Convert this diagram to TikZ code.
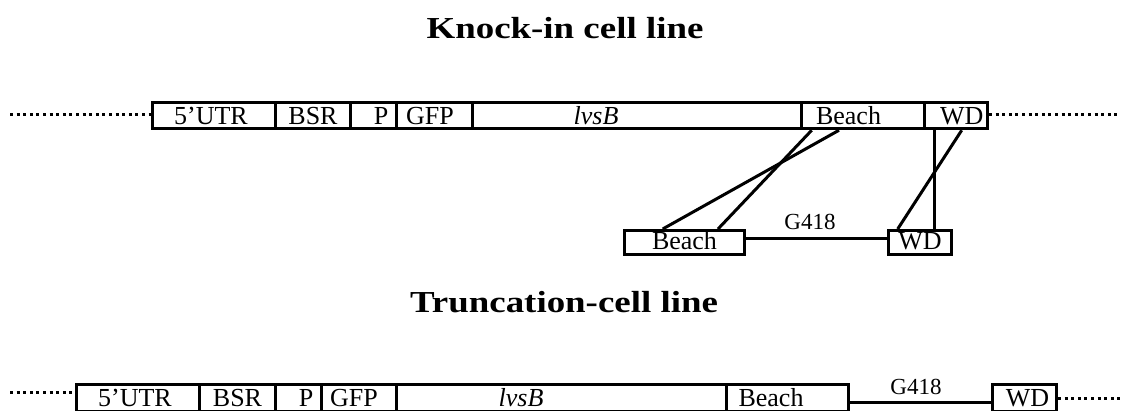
\documentclass[tikz,border=0pt]{standalone}
\usepackage{fontspec}
\setmainfont{Liberation Serif}
\begin{document}
\begin{tikzpicture}[x=1pt,y=-1pt,
  cell/.style={draw, line width=3pt, inner sep=0pt, minimum height=26.5pt},
  lab/.style={inner sep=0pt, anchor=base, font=\fontsize{26}{28}\selectfont},
  glab/.style={inner sep=0pt, anchor=base, font=\fontsize{23}{25}\selectfont},
  link/.style={line width=3pt},
  dots/.style={line width=3pt, dash pattern=on 3pt off 3.6pt},
  title/.style={inner sep=0pt, anchor=base, font=\bfseries\fontsize{30.5}{34}\selectfont},
]
\useasboundingbox (0,0) rectangle (1122,411);

% ---- titles ----
\node[title] (ktitle) at (565,38.3) {\scalebox{1.21}[1]{Knock-in cell line}};
\node[title] (ttitle) at (564,313) {\scalebox{1.21}[1]{Truncation-cell line}};

% ---- knock-in construct ----
\node[cell, minimum width=122.5pt] (utr1)   at (213.75,115.5) {};
\node[cell, minimum width=75pt]    (bsr1)   at (312.5,115.5) {};
\node[cell, minimum width=46.5pt]  (p1)     at (373.25,115.5) {};
\node[cell, minimum width=76pt]    (gfp1)   at (434.5,115.5) {};
\node[cell, minimum width=329.2pt] (lvsb1)  at (637.1,115.5) {};
\node[cell, minimum width=122.3pt] (beach1) at (862.85,115.5) {};
\node[cell, minimum width=63.5pt]  (wd1)    at (955.75,115.5) {};

\node[lab] (tutr1)   at (211,124.3)   {5’UTR};
\node[lab] (tbsr1)   at (313,124.3)   {BSR};
\node[lab] (tp1)     at (381,124.3)   {P};
\node[lab] (tgfp1)   at (430,124.3)   {GFP};
\node[lab] (tlvsb1)  at (596,124.3)   {\textit{lvsB}};
\node[lab] (tbeach1) at (848.5,124.3) {Beach};
\node[lab] (twd1)    at (961.7,124.3) {WD};

\coordinate (d1a) at (10,114.5);
\coordinate (d1b) at (1118,114.5);
\draw[dots] (d1a) -- (d1a -| utr1.west);
\draw[dots] (d1b -| wd1.east) -- (d1b);

% ---- insertion cassette ----
\node[cell, minimum width=120pt, minimum height=24pt] (beachL) at (684.5,242.5) {};
\node[cell, minimum width=63pt,  minimum height=24pt] (wdL)    at (920,242.5) {};
\node[lab] (tbeachL) at (684.5,250) {Beach};
\node[lab] (twdL)    at (920,250)   {WD};
\draw[link] ([yshift=4pt]beachL.east) -- ([yshift=4pt]wdL.west);
\node[glab] (g418a) at (810,229.3) {G418};

% ---- homologous arms ----
\draw[link] ([xshift=11.5pt]beach1.south west) -- ([xshift=95pt]beachL.north west);
\draw[link] ([xshift=38.8pt]beach1.south west) -- ([xshift=39.7pt]beachL.north west);
\draw[link] ([xshift=11.8pt]wd1.south west) -- ([xshift=47.3pt]wdL.north west);
\draw[link] ([xshift=39.2pt]wd1.south west) -- ([xshift=10.7pt]wdL.north west);

% ---- truncation construct ----
\node[cell, minimum width=122.5pt] (utr2)   at (137.75,398.25) {};
\node[cell, minimum width=76pt]    (bsr2)   at (237,398.25) {};
\node[cell, minimum width=46.7pt]  (p2)     at (298.35,398.25) {};
\node[cell, minimum width=75pt]    (gfp2)   at (359.2,398.25) {};
\node[cell, minimum width=330pt]   (lvsb2)  at (561.7,398.25) {};
\node[cell, minimum width=121.8pt] (beach2) at (787.6,398.25) {};
\node[cell, minimum width=64.5pt]  (wd2)    at (1024.25,398.25) {};

\node[lab] (tutr2)   at (135,406.9)    {5’UTR};
\node[lab] (tbsr2)   at (237.5,406.9)  {BSR};
\node[lab] (tp2)     at (306,406.9)    {P};
\node[lab] (tgfp2)   at (354,406.9)    {GFP};
\node[lab] (tlvsb2)  at (521,406.9)    {\textit{lvsB}};
\node[lab] (tbeach2) at (771,406.9)    {Beach};
\node[lab] (twd2)    at (1027.5,406.9) {WD};

\draw[link] ([yshift=-4pt]beach2.east) -- ([yshift=-4pt]wd2.west);
\node[glab] (g418b) at (916,394.3) {G418};

\coordinate (d2a) at (10,393);
\coordinate (d2b) at (1121,399);
\draw[dots] (d2a) -- (d2a -| utr2.west);
\draw[dots] (d2b -| wd2.east) -- (d2b);
\end{tikzpicture}
\end{document}
